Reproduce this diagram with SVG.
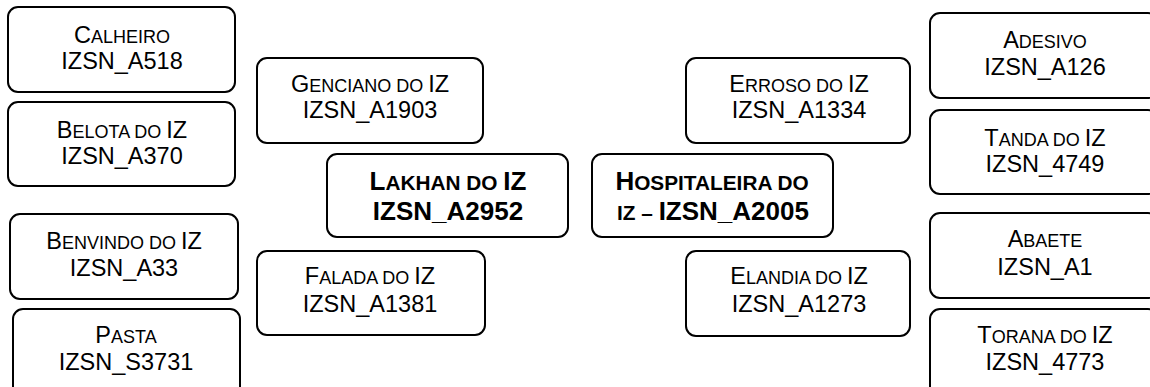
<svg xmlns="http://www.w3.org/2000/svg" width="1150" height="387" viewBox="0 0 1150 387">
<style>
.box{fill:#fff;stroke:#000;stroke-width:2}
.t{font-family:"Liberation Sans",Arial,sans-serif;font-size:23.5px;fill:#000;text-anchor:middle}
.b{font-family:"Liberation Sans",Arial,sans-serif;font-size:26px;font-weight:bold;fill:#000;text-anchor:middle}
.t .s{font-size:18px}
.b .s{font-size:20.8px}
</style>
<rect width="1150" height="387" fill="#fff"/>
<g id="connectors"/>
<g id="calheiro"><rect class="box" x="8" y="7" width="227" height="85" rx="10"/><text class="t" x="122" y="43">C<tspan class="s">ALHEIRO</tspan></text><text class="t" x="122" y="69">IZSN_A518</text></g>
<g id="belota"><rect class="box" x="8" y="102" width="227" height="84" rx="10"/><text class="t" x="122" y="138">B<tspan class="s">ELOTA DO </tspan>IZ</text><text class="t" x="122" y="164">IZSN_A370</text></g>
<g id="benvindo"><rect class="box" x="10" y="214" width="228" height="85" rx="10"/><text class="t" x="124" y="249">B<tspan class="s">ENVINDO DO </tspan>IZ</text><text class="t" x="124" y="276">IZSN_A33</text></g>
<g id="pasta"><rect class="box" x="13" y="309" width="227" height="90" rx="10"/><text class="t" x="126" y="343">P<tspan class="s">ASTA</tspan></text><text class="t" x="126" y="370">IZSN_S3731</text></g>
<g id="genciano"><rect class="box" x="257" y="58" width="226" height="85" rx="10"/><text class="t" x="370" y="92">G<tspan class="s">ENCIANO DO </tspan>IZ</text><text class="t" x="370" y="118">IZSN_A1903</text></g>
<g id="lakhan"><rect class="box" x="327" y="154" width="241" height="83" rx="10"/><text class="b" x="448" y="190">L<tspan class="s">AKHAN DO </tspan>IZ</text><text class="b" x="448" y="220">IZSN_A2952</text></g>
<g id="falada"><rect class="box" x="257" y="251" width="228" height="84" rx="10"/><text class="t" x="370" y="284">F<tspan class="s">ALADA DO </tspan>IZ</text><text class="t" x="370" y="312">IZSN_A1381</text></g>
<g id="hospitaleira"><rect class="box" x="592" y="154" width="241" height="83" rx="10"/><text class="b" x="712" y="190">H<tspan class="s">OSPITALEIRA DO</tspan></text><text class="b" x="713" y="220"><tspan class="s">IZ – </tspan>IZSN_A2005</text></g>
<g id="erroso"><rect class="box" x="686" y="58" width="224" height="85" rx="10"/><text class="t" x="799" y="92">E<tspan class="s">RROSO DO </tspan>IZ</text><text class="t" x="799" y="118">IZSN_A1334</text></g>
<g id="elandia"><rect class="box" x="686" y="251" width="224" height="85" rx="10"/><text class="t" x="799" y="284">E<tspan class="s">LANDIA DO </tspan>IZ</text><text class="t" x="799" y="312">IZSN_A1273</text></g>
<g id="adesivo"><rect class="box" x="930" y="13" width="228" height="85" rx="10"/><text class="t" x="1045" y="48">A<tspan class="s">DESIVO</tspan></text><text class="t" x="1045" y="75">IZSN_A126</text></g>
<g id="tanda"><rect class="box" x="930" y="110" width="228" height="84" rx="10"/><text class="t" x="1045" y="146">T<tspan class="s">ANDA DO </tspan>IZ</text><text class="t" x="1045" y="172">IZSN_4749</text></g>
<g id="abaete"><rect class="box" x="930" y="213" width="228" height="85" rx="10"/><text class="t" x="1045" y="247">A<tspan class="s">BAETE</tspan></text><text class="t" x="1045" y="275">IZSN_A1</text></g>
<g id="torana"><rect class="box" x="930" y="309" width="228" height="90" rx="10"/><text class="t" x="1045" y="343">T<tspan class="s">ORANA DO </tspan>IZ</text><text class="t" x="1045" y="370">IZSN_4773</text></g>
</svg>
